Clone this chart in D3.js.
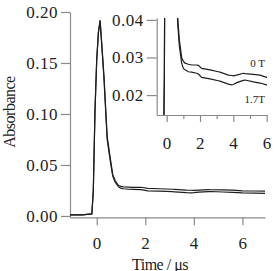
<!DOCTYPE html>
<html>
<head>
<meta charset="utf-8">
<script src="https://cdn.jsdelivr.net/npm/d3@7"></script>
<style>
  body { margin: 0; background: #fff; }
</style>
</head>
<body>
<svg id="svg" width="277" height="271"></svg>
<script>
// Transient absorbance, two field strengths
var time = [-1.1, -0.6, -0.2, -0.14, -0.07, 0, 0.07, 0.14, 0.22, 0.3, 0.43, 0.57, 0.66, 0.76, 0.9,
	1.0, 1.1, 1.3, 1.5, 1.8, 1.9, 2.1, 2.6, 3.1, 3.2, 3.7, 3.9, 4.0, 4.2, 4.6, 4.7, 5.2, 5.6, 6.0, 6.5, 6.93];

var abs0T = [0.001, 0.001, 0.002, 0.025, 0.104, 0.153, 0.180, 0.192, 0.165, 0.137, 0.078, 0.055, 0.0405, 0.0347, 0.0299,
	0.0290, 0.0285, 0.0282, 0.0280, 0.0280, 0.0279, 0.0271, 0.0267, 0.0262, 0.0261, 0.0253, 0.0252, 0.0251, 0.0253, 0.0258,
	0.0257, 0.0255, 0.0253, 0.0247, 0.0245, 0.0243];

var abs17T = [0.001, 0.001, 0.002, 0.025, 0.104, 0.153, 0.180, 0.191, 0.163, 0.134, 0.075, 0.052, 0.0390, 0.0330, 0.0285,
	0.0271, 0.0267, 0.0262, 0.0261, 0.0258, 0.0256, 0.0247, 0.0243, 0.0238, 0.0237, 0.0229, 0.0227, 0.0228, 0.0233, 0.0239,
	0.0240, 0.0235, 0.0232, 0.0227, 0.0225, 0.0222];

var seriesNames = ["0 T", "1.7T"];
var mainXTicks = [0, 2, 4, 6];
var mainYTicks = [0, 0.05, 0.10, 0.15, 0.20];
var insetXTicks = [0, 2, 4, 6];
var insetXMinor = [1, 3, 5];
var insetYTicks = [0.02, 0.03, 0.04];

var series = [abs0T, abs17T].map(function(vals){
	return vals.map(function(v, i){ return { t: time[i], a: v }; });
});

var svg = d3.select('#svg');
var serif = '"Liberation Serif", "DejaVu Serif", "Times New Roman", serif';
var axisColor = '#8a8a8a';
var lineColor = '#1e1e1e';

function styleAxis(g){
	g.attr('font-family', serif);
	g.select('.domain').attr('stroke', axisColor).attr('stroke-width', 1.2);
	g.selectAll('.tick line').attr('stroke', axisColor).attr('stroke-width', 1.2);
	g.selectAll('.tick text')
		.attr('font-family', serif)
		.attr('font-size', 17)
		.attr('letter-spacing', 0.5)
		.attr('fill', '#222');
}

// ---- main plot
var x = d3.scaleLinear().domain([-1.1, 6.93]).range([70, 265]);
var y = d3.scaleLinear().domain([-0.0013, 0.20]).range([217.3, 12]);

svg.append('g')
	.attr('transform', 'translate(0,217.3)')
	.call(d3.axisBottom(x).tickValues(mainXTicks).tickSize(8).tickSizeOuter(0).tickPadding(12).tickFormat(d3.format('d')))
	.call(styleAxis);

svg.append('g')
	.attr('transform', 'translate(70,0)')
	.call(d3.axisLeft(y).tickValues(mainYTicks).tickSize(9).tickSizeOuter(0).tickPadding(3).tickFormat(d3.format('.2f')))
	.call(styleAxis);

var line = d3.line().x(function(d){ return x(d.t); }).y(function(d){ return y(d.a); });

svg.append('g').selectAll('path')
	.data(series)
	.enter()
	.append('path')
	.attr('d', line)
	.attr('fill', 'none')
	.attr('stroke', lineColor)
	.attr('stroke-width', 1.2);

svg.append('text')
	.attr('transform', 'translate(15,112) rotate(-90)')
	.attr('text-anchor', 'middle')
	.attr('font-family', serif)
	.attr('font-size', 16)
	.attr('letter-spacing', -0.5)
	.attr('fill', '#222')
	.text('Absorbance');

svg.append('text')
	.attr('x', 160)
	.attr('y', 270)
	.attr('text-anchor', 'middle')
	.attr('font-family', serif)
	.attr('font-size', 16)
	.attr('letter-spacing', -0.5)
	.attr('fill', '#222')
	.text('Time / μs');

// ---- inset
var ix = d3.scaleLinear().domain([-0.6, 6.02]).range([156.7, 267]);
var iy = d3.scaleLinear().domain([0.0147, 0.0405]).range([115, 18]);

svg.append('clipPath')
	.attr('id', 'inset-clip')
	.append('rect')
	.attr('x', ix.range()[0])
	.attr('y', iy.range()[1])
	.attr('width', ix.range()[1] - ix.range()[0])
	.attr('height', iy.range()[0] - iy.range()[1]);

svg.append('g')
	.attr('transform', 'translate(0,115)')
	.call(d3.axisBottom(ix).tickValues(insetXMinor).tickSize(4).tickSizeOuter(0).tickFormat(''))
	.call(styleAxis);

svg.append('g')
	.attr('transform', 'translate(0,115)')
	.call(d3.axisBottom(ix).tickValues(insetXTicks).tickSize(7).tickSizeOuter(0).tickPadding(15).tickFormat(d3.format('d')))
	.call(styleAxis);

svg.append('g')
	.attr('transform', 'translate(156.7,0)')
	.call(d3.axisLeft(iy).tickValues(insetYTicks).tickSize(10).tickSizeOuter(0).tickPadding(3).tickFormat(d3.format('.2f')))
	.call(styleAxis);

var iline = d3.line().x(function(d){ return ix(d.t); }).y(function(d){ return iy(d.a); });

svg.append('g')
	.attr('clip-path', 'url(#inset-clip)')
	.selectAll('path')
	.data(series)
	.enter()
	.append('path')
	.attr('d', iline)
	.attr('fill', 'none')
	.attr('stroke', lineColor)
	.attr('stroke-width', 1.2);

// series labels at the right end of the inset curves
var labelBase = [66.7, 102.7];
svg.append('g').selectAll('text')
	.data(seriesNames)
	.enter()
	.append('text')
	.attr('x', 265)
	.attr('y', function(d, i){ return labelBase[i]; })
	.attr('text-anchor', 'end')
	.attr('font-family', serif)
	.attr('font-size', 11)
	.attr('fill', '#222')
	.text(function(d){ return d; });
</script>
</body>
</html>
